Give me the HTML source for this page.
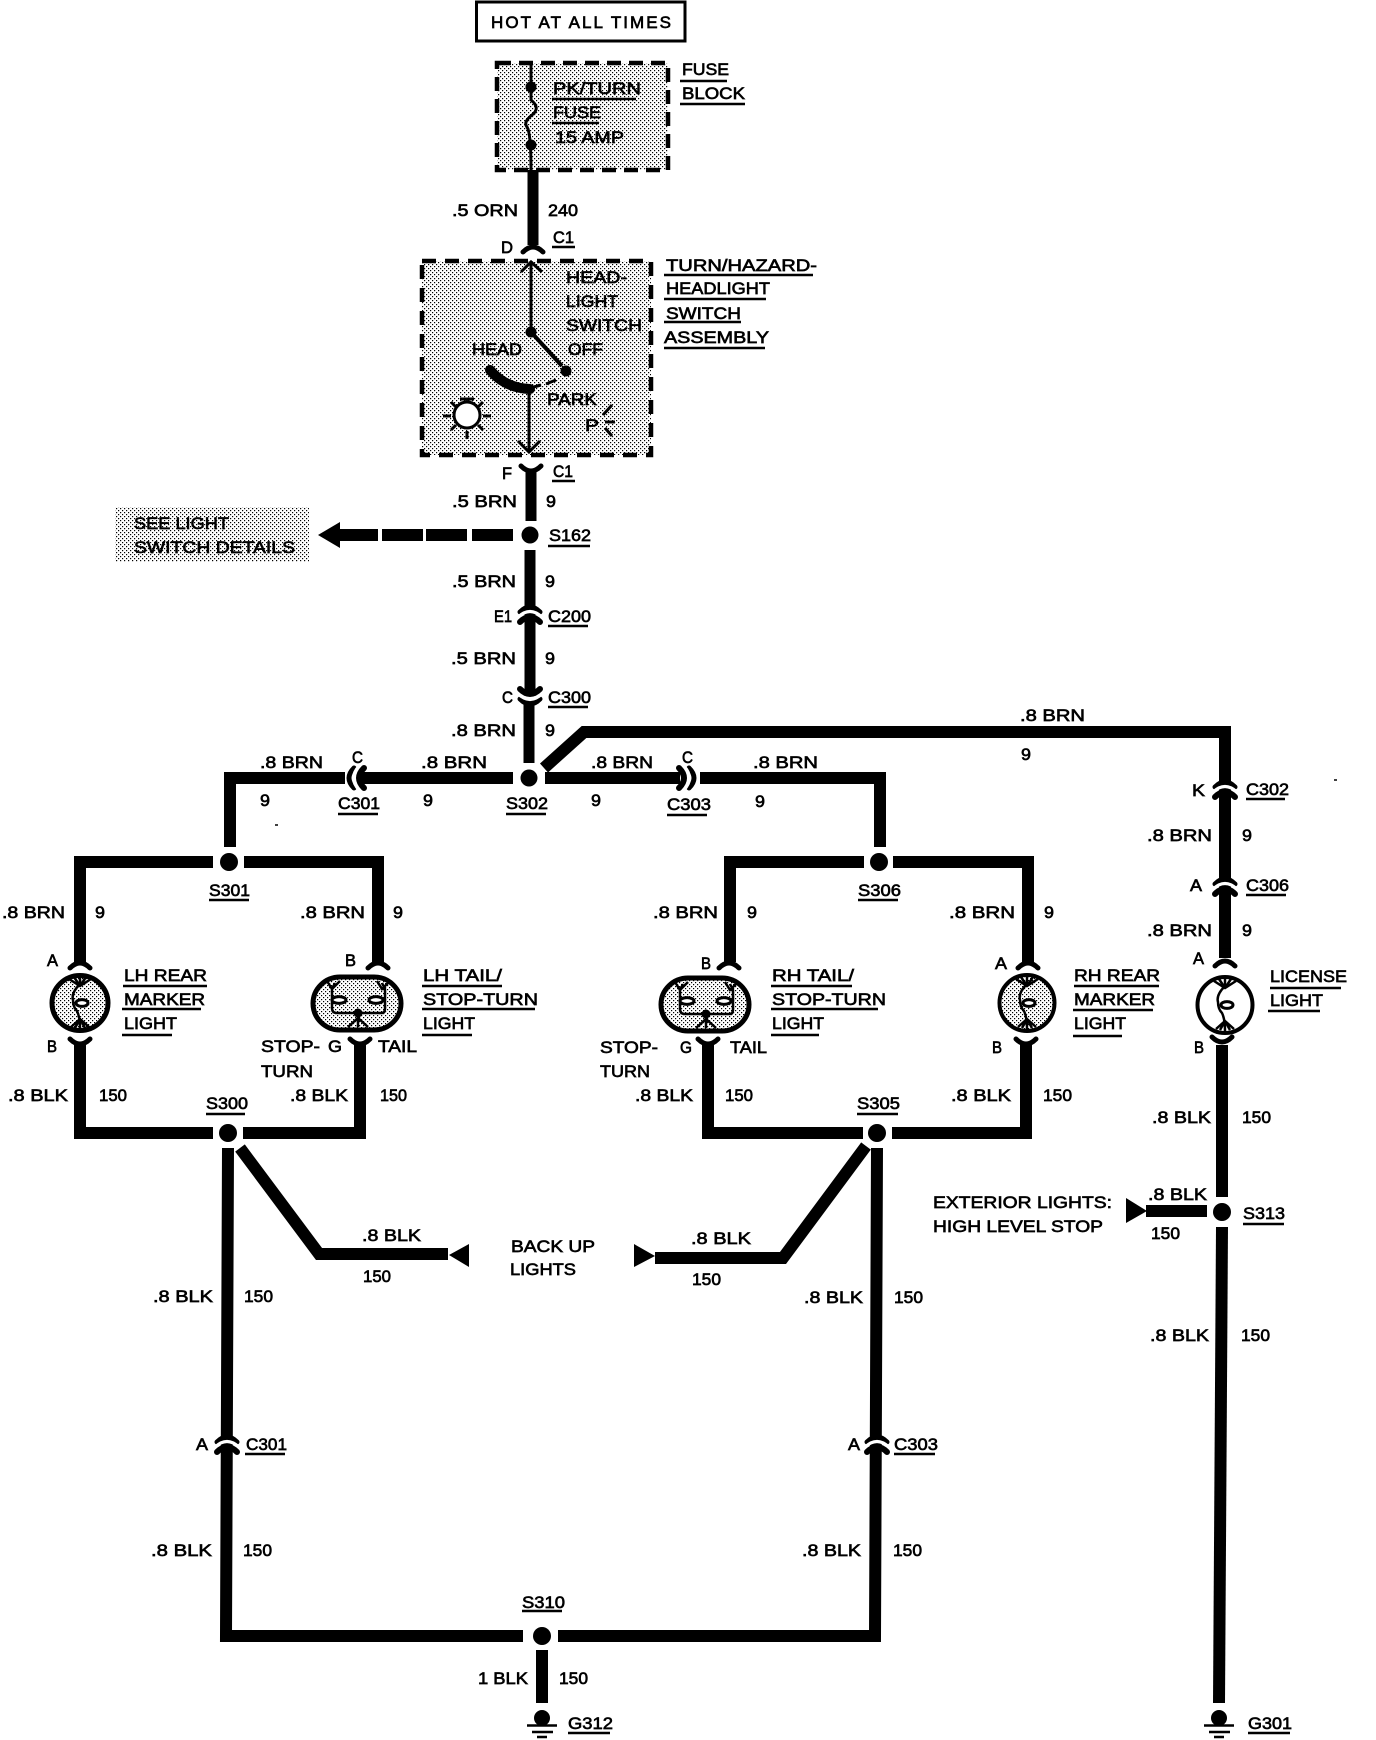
<!DOCTYPE html>
<html><head><meta charset="utf-8"><style>
html,body{margin:0;padding:0;background:#fff}
svg{display:block}
text{font-family:"Liberation Sans",sans-serif;font-size:17px;fill:#000;stroke:#000;stroke-width:.65}
.w{fill:none;stroke:#000;stroke-width:12;stroke-linejoin:miter}
.u{fill:none;stroke:#000;stroke-width:2.5}
.t{fill:none;stroke:#000;stroke-width:3}
</style></head><body>
<svg width="1376" height="1740" viewBox="0 0 1376 1740" xmlns="http://www.w3.org/2000/svg">
<defs>
<pattern id="st" width="4" height="4" patternUnits="userSpaceOnUse"><rect x="0" y="0" width="1.2" height="1.2" fill="#000"/><rect x="2" y="2" width="1.2" height="1.2" fill="#000"/></pattern>
<g id="conn" fill="none" stroke-linecap="round"><path d="M-10,-1 Q0,-11 10,-1" stroke="#000" stroke-width="5"/><path d="M-10,9 Q0,-1 10,9" stroke="#000" stroke-width="6"/><path d="M-12,4 Q0,-7 12,4" stroke="#fff" stroke-width="3" stroke-linecap="butt"/></g>
<path id="capt" d="M-10,4 Q0,-6 10,4" fill="none" stroke="#000" stroke-width="5" stroke-linecap="round"/>
<path id="capb" d="M-10,-4 Q0,6 10,-4" fill="none" stroke="#000" stroke-width="5" stroke-linecap="round"/>
<g id="mi" fill="none" stroke="#000" stroke-width="2.5"><path d="M0,-26 V-19 Q-9,-10 -7,-3 Q-7,4 -3,8 Q0,14 0,26"/><path d="M-11,-24 L0,-17 L11,-24 M-6,-26 L0,-17 M6,-26 L0,-17 M-9,24 L0,16 L9,24 M-5,25 L0,16 M5,25 L0,16"/><ellipse cx="2" cy="0" rx="6" ry="3.4" fill="#fff" stroke-width="3"/></g>
<g id="tl"><rect x="-44" y="-26" width="88" height="53" rx="27" fill="#fff"/><rect x="-44" y="-26" width="88" height="53" rx="27" fill="url(#st)" stroke="#000" stroke-width="5"/>
<g fill="none" stroke="#000" stroke-width="2.5"><path d="M-22,-20 L-25,-14 V5 Q-25,10 -20,10 H25 Q28,10 28,5 V-14 L25,-20"/><path d="M-30,-22 L-25,-14 L-17,-22 M20,-22 L25,-14 L33,-22 M1,10 V24 M-9,24 L1,15 L11,24"/><ellipse cx="-18" cy="-3" rx="7" ry="3.4" fill="#fff" stroke-width="3"/><ellipse cx="19" cy="-3" rx="7" ry="3.4" fill="#fff" stroke-width="3"/></g><circle cx="1" cy="10" r="4.5"/></g>
<g id="gnd"><circle cx="0" cy="0" r="8"/><path d="M-15,7.5 H15 M-10,14 H11 M-5,19 H5" stroke="#000" stroke-width="2.5" fill="none"/></g>
</defs>
<rect width="1376" height="1740" fill="#fff"/>

<!-- top boxes -->
<rect x="476.500" y="2" width="208.500" height="39" fill="none" stroke="#000" stroke-width="3"/>
<rect x="497" y="63" width="171" height="107" fill="url(#st)" stroke="#000" stroke-width="4.500" stroke-dasharray="14 8"/>
<rect x="422" y="261" width="229" height="194" fill="url(#st)" stroke="#000" stroke-width="4.500" stroke-dasharray="14 9"/>
<rect x="115" y="507" width="194" height="55" fill="url(#st)"/>

<!-- fuse -->
<path class="t" d="M531,62 V100 Q541,108 532,115 Q523,122 527,127 Q531,133 531,170"/>
<circle cx="531" cy="87" r="5.500"/><circle cx="531" cy="145" r="5.500"/>

<!-- switch internals -->
<path class="t" d="M531,262 V332"/><path class="t" d="M521,272 L531,262 L542,272"/>
<circle cx="531" cy="332" r="5.500"/><path d="M531,332 L562,366" stroke="#000" stroke-width="4" fill="none"/><circle cx="566" cy="371" r="5.500"/>
<path d="M490,370 Q505,388 530,389" stroke="#000" stroke-width="10" fill="none" stroke-linecap="round"/>
<path d="M530,388 L541,385 M546,384 L556,380" stroke="#000" stroke-width="3" fill="none"/>
<path class="t" d="M529,390 V452"/><path class="t" d="M518,441 L529,452 L540,441"/>
<circle cx="467" cy="415" r="13" fill="#fff" stroke="#000" stroke-width="3"/>
<path d="M460,399 H474 M451,402 L456,407 M483,402 L478,407 M443,416 H451 M483,416 H491 M451,430 L456,425 M483,430 L478,425 M467,431 V439" stroke="#000" stroke-width="3" fill="none"/>
<path d="M603,415 L612,405 M605,422 H615 M605,428 L612,436" stroke="#000" stroke-width="3" fill="none"/>

<!-- wires -->
<g class="w">
<path d="M533,170 V245" stroke-width="11"/>
<path d="M531,470 V521" stroke-width="11"/>
<path d="M530,550 V696" stroke-width="11"/>
<path d="M529,700 V763" stroke-width="11"/>
<path d="M513,778 H362"/>
<path d="M345,778 H230 V847"/>
<path d="M545,778 H680"/>
<path d="M700,778 H880 V847"/>
<path d="M544,768 L584,732 H1225 V958"/>
<path d="M213,862 H80 V962"/>
<path d="M244,862 H378 V962"/>
<path d="M864,862 H730 V962"/>
<path d="M893,862 H1028 V962"/>
<path d="M80,1045 V1133 H213"/>
<path d="M243,1133 H360 V1045"/>
<path d="M708,1045 V1133 H863"/>
<path d="M892,1133 H1026 V1045"/>
<path d="M228,1148 L226,1636 H523"/>
<path d="M558,1636 H875 L877,1148"/>
<path d="M240,1148 L319,1254 H448"/>
<path d="M866,1146 L783,1258 H655"/>
<path d="M1222,1045 V1197"/>
<path d="M1222,1227 L1219,1703"/>
<path d="M1207,1211 H1146"/>
<path d="M542,1650 V1703"/>
</g>
<!-- S162 dashed -->
<path d="M339,529 H378 V541 H339 Z M382,529 H423 V541 H382 Z M426,529 H467 V541 H426 Z M472,529 H513 V541 H472 Z"/>
<path d="M318,535 L340,522 V548 Z"/>
<!-- triangles -->
<path d="M449,1255 L469,1244 V1267 Z"/>
<path d="M655,1256 L634,1244 V1267 Z"/>
<path d="M1147,1211 L1126,1198 V1223 Z"/>

<!-- connectors -->
<use href="#capt" x="533" y="248"/>
<use href="#capb" x="531" y="470"/>
<use href="#conn" x="530" y="613"/>
<use href="#conn" transform="translate(530,698) rotate(180)"/>
<use href="#conn" transform="translate(355,778) rotate(-90)"/>
<use href="#conn" transform="translate(688,778) rotate(90)"/>
<use href="#conn" x="1225" y="788"/>
<use href="#conn" x="1225" y="885"/>
<use href="#conn" x="227" y="1443"/>
<use href="#conn" x="877" y="1443"/>
<use href="#capt" x="80" y="964"/>
<use href="#capt" x="378" y="964"/>
<use href="#capt" x="729" y="964"/>
<use href="#capt" x="1028" y="964"/>
<use href="#capt" x="1225" y="962"/>
<use href="#capb" x="80" y="1043"/>
<use href="#capb" x="360" y="1043"/>
<use href="#capb" x="708" y="1043"/>
<use href="#capb" x="1026" y="1043"/>
<use href="#capb" x="1222" y="1041"/>

<!-- splice dots -->
<circle cx="530" cy="535" r="8.500"/><circle cx="529" cy="778" r="8.500"/>
<circle cx="229" cy="862" r="9"/><circle cx="879" cy="862" r="9"/>
<circle cx="228" cy="1133" r="9"/><circle cx="877" cy="1133" r="9"/>
<circle cx="1222" cy="1212" r="9"/><circle cx="542" cy="1636" r="9"/>
<use href="#gnd" x="542" y="1718"/><use href="#gnd" x="1219" y="1718"/>

<!-- lamps -->
<ellipse cx="80" cy="1003" rx="28" ry="27.500" fill="url(#st)" stroke="#000" stroke-width="5"/><use href="#mi" x="80" y="1003"/>
<ellipse cx="1027" cy="1003" rx="27.500" ry="28" fill="url(#st)" stroke="#000" stroke-width="4"/><use href="#mi" x="1027" y="1003"/>
<ellipse cx="1225" cy="1005" rx="27.500" ry="28" fill="#fff" stroke="#000" stroke-width="4"/><use href="#mi" x="1225" y="1005"/>
<use href="#tl" x="357" y="1003"/><use href="#tl" x="705" y="1004"/>

<!-- underlines -->
<path class="u" d="M680,81H727M680,104H745M552,99H636M552,123H599M552,247H575M664,275H813M664,299H766M664,322H741M664,348H765M552,481H575M548,546H590M548,626H588M548,707H588M338,814H378M506,814H546M667,815H707M1246,799H1285M1246,895H1286M209,900H249M858,900H898M123,986H207M122,1009H201M122,1035H172M422,986H502M422,1009H535M422,1035H472M771,986H852M771,1009H878M771,1035H819M1074,986H1159M1073,1010H1153M1073,1036H1122M1270,988H1341M1268,1011H1320M206,1114H245M857,1114H898M1243,1224H1284M245,1454H285M894,1454H935M522,1611H562M568,1733H610M1248,1733H1290"/>
<path d="M275,825h3M1334,780h3" stroke="#000" stroke-width="1.500"/>

<!-- labels -->
<text x="491" y="28" textLength="180">HOT AT ALL TIMES</text>
<text x="682" y="75" textLength="47" lengthAdjust="spacingAndGlyphs">FUSE</text>
<text x="682" y="99" textLength="63" lengthAdjust="spacingAndGlyphs">BLOCK</text>
<text x="553" y="94" textLength="88" lengthAdjust="spacingAndGlyphs">PK/TURN</text>
<text x="553" y="118" textLength="48" lengthAdjust="spacingAndGlyphs">FUSE</text>
<text x="555" y="143" textLength="69" lengthAdjust="spacingAndGlyphs">15 AMP</text>
<text x="452" y="216" textLength="66" lengthAdjust="spacingAndGlyphs">.5 ORN</text>
<text x="548" y="216" textLength="30" lengthAdjust="spacingAndGlyphs">240</text>
<text x="501" y="253" textLength="12" lengthAdjust="spacingAndGlyphs">D</text>
<text x="553" y="243" textLength="21" lengthAdjust="spacingAndGlyphs">C1</text>
<text x="666" y="271" textLength="151" lengthAdjust="spacingAndGlyphs">TURN/HAZARD-</text>
<text x="666" y="294" textLength="104" lengthAdjust="spacingAndGlyphs">HEADLIGHT</text>
<text x="666" y="319" textLength="75" lengthAdjust="spacingAndGlyphs">SWITCH</text>
<text x="664" y="343" textLength="105" lengthAdjust="spacingAndGlyphs">ASSEMBLY</text>
<text x="566" y="283" textLength="61" lengthAdjust="spacingAndGlyphs">HEAD-</text>
<text x="566" y="307" textLength="52" lengthAdjust="spacingAndGlyphs">LIGHT</text>
<text x="566" y="331" textLength="76" lengthAdjust="spacingAndGlyphs">SWITCH</text>
<text x="568" y="355" textLength="35" lengthAdjust="spacingAndGlyphs">OFF</text>
<text x="472" y="355" textLength="50" lengthAdjust="spacingAndGlyphs">HEAD</text>
<text x="547" y="405" textLength="50" lengthAdjust="spacingAndGlyphs">PARK</text>
<text x="585" y="431" textLength="14" lengthAdjust="spacingAndGlyphs">P</text>
<text x="502" y="479" textLength="10" lengthAdjust="spacingAndGlyphs">F</text>
<text x="553" y="477" textLength="20" lengthAdjust="spacingAndGlyphs">C1</text>
<text x="452" y="507" textLength="65" lengthAdjust="spacingAndGlyphs">.5 BRN</text>
<text x="546" y="507" textLength="10" lengthAdjust="spacingAndGlyphs">9</text>
<text x="134" y="529" textLength="95" lengthAdjust="spacingAndGlyphs">SEE LIGHT</text>
<text x="134" y="553" textLength="161" lengthAdjust="spacingAndGlyphs">SWITCH DETAILS</text>
<text x="549" y="541" textLength="42" lengthAdjust="spacingAndGlyphs">S162</text>
<text x="452" y="587" textLength="64" lengthAdjust="spacingAndGlyphs">.5 BRN</text>
<text x="545" y="587" textLength="10" lengthAdjust="spacingAndGlyphs">9</text>
<text x="494" y="622" textLength="18" lengthAdjust="spacingAndGlyphs">E1</text>
<text x="548" y="622" textLength="43" lengthAdjust="spacingAndGlyphs">C200</text>
<text x="451" y="664" textLength="65" lengthAdjust="spacingAndGlyphs">.5 BRN</text>
<text x="545" y="664" textLength="10" lengthAdjust="spacingAndGlyphs">9</text>
<text x="502" y="703" textLength="11" lengthAdjust="spacingAndGlyphs">C</text>
<text x="548" y="703" textLength="43" lengthAdjust="spacingAndGlyphs">C300</text>
<text x="451" y="736" textLength="65" lengthAdjust="spacingAndGlyphs">.8 BRN</text>
<text x="545" y="736" textLength="10" lengthAdjust="spacingAndGlyphs">9</text>
<text x="1020" y="721" textLength="65" lengthAdjust="spacingAndGlyphs">.8 BRN</text>
<text x="1021" y="760" textLength="10" lengthAdjust="spacingAndGlyphs">9</text>
<text x="260" y="768" textLength="63" lengthAdjust="spacingAndGlyphs">.8 BRN</text>
<text x="352" y="763" textLength="11" lengthAdjust="spacingAndGlyphs">C</text>
<text x="421" y="768" textLength="66" lengthAdjust="spacingAndGlyphs">.8 BRN</text>
<text x="591" y="768" textLength="62" lengthAdjust="spacingAndGlyphs">.8 BRN</text>
<text x="682" y="763" textLength="11" lengthAdjust="spacingAndGlyphs">C</text>
<text x="753" y="768" textLength="65" lengthAdjust="spacingAndGlyphs">.8 BRN</text>
<text x="260" y="806" textLength="10" lengthAdjust="spacingAndGlyphs">9</text>
<text x="423" y="806" textLength="10" lengthAdjust="spacingAndGlyphs">9</text>
<text x="591" y="806" textLength="10" lengthAdjust="spacingAndGlyphs">9</text>
<text x="755" y="807" textLength="10" lengthAdjust="spacingAndGlyphs">9</text>
<text x="338" y="809" textLength="42" lengthAdjust="spacingAndGlyphs">C301</text>
<text x="506" y="809" textLength="42" lengthAdjust="spacingAndGlyphs">S302</text>
<text x="667" y="810" textLength="44" lengthAdjust="spacingAndGlyphs">C303</text>
<text x="1192" y="796" textLength="13" lengthAdjust="spacingAndGlyphs">K</text>
<text x="1246" y="795" textLength="43" lengthAdjust="spacingAndGlyphs">C302</text>
<text x="1147" y="841" textLength="65" lengthAdjust="spacingAndGlyphs">.8 BRN</text>
<text x="1242" y="841" textLength="10" lengthAdjust="spacingAndGlyphs">9</text>
<text x="1190" y="891" textLength="12" lengthAdjust="spacingAndGlyphs">A</text>
<text x="1246" y="891" textLength="43" lengthAdjust="spacingAndGlyphs">C306</text>
<text x="1147" y="936" textLength="65" lengthAdjust="spacingAndGlyphs">.8 BRN</text>
<text x="1242" y="936" textLength="10" lengthAdjust="spacingAndGlyphs">9</text>
<text x="209" y="896" textLength="41" lengthAdjust="spacingAndGlyphs">S301</text>
<text x="858" y="896" textLength="43" lengthAdjust="spacingAndGlyphs">S306</text>
<text x="2" y="918" textLength="63" lengthAdjust="spacingAndGlyphs">.8 BRN</text>
<text x="95" y="918" textLength="10" lengthAdjust="spacingAndGlyphs">9</text>
<text x="300" y="918" textLength="65" lengthAdjust="spacingAndGlyphs">.8 BRN</text>
<text x="393" y="918" textLength="10" lengthAdjust="spacingAndGlyphs">9</text>
<text x="653" y="918" textLength="65" lengthAdjust="spacingAndGlyphs">.8 BRN</text>
<text x="747" y="918" textLength="10" lengthAdjust="spacingAndGlyphs">9</text>
<text x="949" y="918" textLength="66" lengthAdjust="spacingAndGlyphs">.8 BRN</text>
<text x="1044" y="918" textLength="10" lengthAdjust="spacingAndGlyphs">9</text>
<text x="47" y="966" textLength="11" lengthAdjust="spacingAndGlyphs">A</text>
<text x="345" y="966" textLength="11" lengthAdjust="spacingAndGlyphs">B</text>
<text x="701" y="969" textLength="10" lengthAdjust="spacingAndGlyphs">B</text>
<text x="995" y="969" textLength="12" lengthAdjust="spacingAndGlyphs">A</text>
<text x="1193" y="964" textLength="11" lengthAdjust="spacingAndGlyphs">A</text>
<text x="124" y="981" textLength="83" lengthAdjust="spacingAndGlyphs">LH REAR</text>
<text x="124" y="1005" textLength="81" lengthAdjust="spacingAndGlyphs">MARKER</text>
<text x="124" y="1029" textLength="53" lengthAdjust="spacingAndGlyphs">LIGHT</text>
<text x="423" y="981" textLength="79" lengthAdjust="spacingAndGlyphs">LH TAIL/</text>
<text x="423" y="1005" textLength="115" lengthAdjust="spacingAndGlyphs">STOP-TURN</text>
<text x="423" y="1029" textLength="52" lengthAdjust="spacingAndGlyphs">LIGHT</text>
<text x="772" y="981" textLength="82" lengthAdjust="spacingAndGlyphs">RH TAIL/</text>
<text x="772" y="1005" textLength="114" lengthAdjust="spacingAndGlyphs">STOP-TURN</text>
<text x="772" y="1029" textLength="52" lengthAdjust="spacingAndGlyphs">LIGHT</text>
<text x="1074" y="981" textLength="86" lengthAdjust="spacingAndGlyphs">RH REAR</text>
<text x="1074" y="1005" textLength="81" lengthAdjust="spacingAndGlyphs">MARKER</text>
<text x="1074" y="1029" textLength="52" lengthAdjust="spacingAndGlyphs">LIGHT</text>
<text x="1270" y="982" textLength="77" lengthAdjust="spacingAndGlyphs">LICENSE</text>
<text x="1270" y="1006" textLength="53" lengthAdjust="spacingAndGlyphs">LIGHT</text>
<text x="47" y="1052" textLength="10" lengthAdjust="spacingAndGlyphs">B</text>
<text x="261" y="1052" textLength="59" lengthAdjust="spacingAndGlyphs">STOP-</text>
<text x="328" y="1052" textLength="14" lengthAdjust="spacingAndGlyphs">G</text>
<text x="378" y="1052" textLength="39" lengthAdjust="spacingAndGlyphs">TAIL</text>
<text x="261" y="1077" textLength="52" lengthAdjust="spacingAndGlyphs">TURN</text>
<text x="600" y="1053" textLength="58" lengthAdjust="spacingAndGlyphs">STOP-</text>
<text x="680" y="1053" textLength="12" lengthAdjust="spacingAndGlyphs">G</text>
<text x="730" y="1053" textLength="37" lengthAdjust="spacingAndGlyphs">TAIL</text>
<text x="600" y="1077" textLength="50" lengthAdjust="spacingAndGlyphs">TURN</text>
<text x="992" y="1053" textLength="10" lengthAdjust="spacingAndGlyphs">B</text>
<text x="1194" y="1053" textLength="10" lengthAdjust="spacingAndGlyphs">B</text>
<text x="8" y="1101" textLength="60" lengthAdjust="spacingAndGlyphs">.8 BLK</text>
<text x="99" y="1101" textLength="28" lengthAdjust="spacingAndGlyphs">150</text>
<text x="290" y="1101" textLength="58" lengthAdjust="spacingAndGlyphs">.8 BLK</text>
<text x="380" y="1101" textLength="27" lengthAdjust="spacingAndGlyphs">150</text>
<text x="635" y="1101" textLength="58" lengthAdjust="spacingAndGlyphs">.8 BLK</text>
<text x="725" y="1101" textLength="28" lengthAdjust="spacingAndGlyphs">150</text>
<text x="951" y="1101" textLength="60" lengthAdjust="spacingAndGlyphs">.8 BLK</text>
<text x="1043" y="1101" textLength="29" lengthAdjust="spacingAndGlyphs">150</text>
<text x="206" y="1109" textLength="42" lengthAdjust="spacingAndGlyphs">S300</text>
<text x="857" y="1109" textLength="43" lengthAdjust="spacingAndGlyphs">S305</text>
<text x="1152" y="1123" textLength="59" lengthAdjust="spacingAndGlyphs">.8 BLK</text>
<text x="1242" y="1123" textLength="29" lengthAdjust="spacingAndGlyphs">150</text>
<text x="933" y="1208" textLength="179" lengthAdjust="spacingAndGlyphs">EXTERIOR LIGHTS:</text>
<text x="933" y="1232" textLength="170" lengthAdjust="spacingAndGlyphs">HIGH LEVEL STOP</text>
<text x="1148" y="1200" textLength="59" lengthAdjust="spacingAndGlyphs">.8 BLK</text>
<text x="1151" y="1239" textLength="29" lengthAdjust="spacingAndGlyphs">150</text>
<text x="1243" y="1219" textLength="42" lengthAdjust="spacingAndGlyphs">S313</text>
<text x="362" y="1241" textLength="59" lengthAdjust="spacingAndGlyphs">.8 BLK</text>
<text x="363" y="1282" textLength="28" lengthAdjust="spacingAndGlyphs">150</text>
<text x="511" y="1252" textLength="84" lengthAdjust="spacingAndGlyphs">BACK UP</text>
<text x="510" y="1275" textLength="66" lengthAdjust="spacingAndGlyphs">LIGHTS</text>
<text x="691" y="1244" textLength="60" lengthAdjust="spacingAndGlyphs">.8 BLK</text>
<text x="692" y="1285" textLength="29" lengthAdjust="spacingAndGlyphs">150</text>
<text x="153" y="1302" textLength="60" lengthAdjust="spacingAndGlyphs">.8 BLK</text>
<text x="244" y="1302" textLength="29" lengthAdjust="spacingAndGlyphs">150</text>
<text x="804" y="1303" textLength="59" lengthAdjust="spacingAndGlyphs">.8 BLK</text>
<text x="894" y="1303" textLength="29" lengthAdjust="spacingAndGlyphs">150</text>
<text x="1150" y="1341" textLength="59" lengthAdjust="spacingAndGlyphs">.8 BLK</text>
<text x="1241" y="1341" textLength="29" lengthAdjust="spacingAndGlyphs">150</text>
<text x="196" y="1450" textLength="12" lengthAdjust="spacingAndGlyphs">A</text>
<text x="246" y="1450" textLength="41" lengthAdjust="spacingAndGlyphs">C301</text>
<text x="848" y="1450" textLength="12" lengthAdjust="spacingAndGlyphs">A</text>
<text x="894" y="1450" textLength="44" lengthAdjust="spacingAndGlyphs">C303</text>
<text x="151" y="1556" textLength="61" lengthAdjust="spacingAndGlyphs">.8 BLK</text>
<text x="243" y="1556" textLength="29" lengthAdjust="spacingAndGlyphs">150</text>
<text x="802" y="1556" textLength="59" lengthAdjust="spacingAndGlyphs">.8 BLK</text>
<text x="893" y="1556" textLength="29" lengthAdjust="spacingAndGlyphs">150</text>
<text x="522" y="1608" textLength="43" lengthAdjust="spacingAndGlyphs">S310</text>
<text x="478" y="1684" textLength="50" lengthAdjust="spacingAndGlyphs">1 BLK</text>
<text x="559" y="1684" textLength="29" lengthAdjust="spacingAndGlyphs">150</text>
<text x="568" y="1729" textLength="45" lengthAdjust="spacingAndGlyphs">G312</text>
<text x="1248" y="1729" textLength="44" lengthAdjust="spacingAndGlyphs">G301</text>
</svg>
</body></html>
